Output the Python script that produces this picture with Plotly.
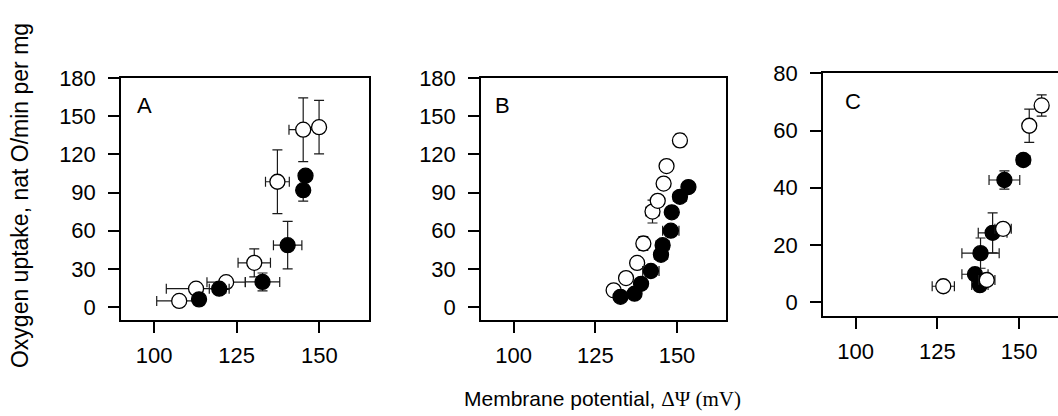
import plotly.graph_objects as go

W, H = 1058, 416

# Panel A data
A_open_x = [107.6, 112.7, 121.8, 130.3, 137.3, 145.1, 149.9]
A_open_y = [4.9, 14.5, 19.6, 34.8, 98.5, 139.4, 141.4]
A_open_xerr = [6.8, 9.0, 5.8, 4.9, 3.6, 4.3, 1.5]
A_open_yerr = [1.5, 2.0, 2.0, 11.0, 25.0, 25.0, 21.0]
A_fill_x = [113.6, 119.7, 132.8, 140.4, 145.1, 145.8]
A_fill_y = [6.1, 14.5, 19.8, 48.7, 91.9, 103.3]
A_fill_xerr = [1.5, 3.0, 5.2, 4.3, 1.5, 1.5]
A_fill_yerr = [2.0, 2.0, 7.0, 18.7, 8.6, 3.0]

# Panel B data
B_open_x = [130.6, 134.4, 137.8, 139.7, 142.5, 144.1, 145.9, 146.8, 150.9]
B_open_y = [13.2, 22.8, 34.7, 50.0, 75.1, 83.5, 97.1, 110.8, 131.0]
B_open_xerr = [1.0, 1.0, 1.0, 1.5, 2.0, 1.5, 1.0, 1.0, 1.0]
B_open_yerr = [2.0, 2.0, 2.0, 5.5, 9.0, 3.0, 3.0, 4.0, 5.0]
B_fill_x = [132.7, 137.0, 139.0, 142.0, 145.1, 145.6, 148.1, 148.4, 150.9, 153.5]
B_fill_y = [8.1, 10.6, 18.3, 28.4, 41.1, 48.7, 60.1, 74.5, 86.7, 94.3]
B_fill_xerr = [1.5, 1.5, 1.5, 2.5, 2.0, 2.0, 2.5, 1.5, 2.0, 1.5]
B_fill_yerr = [2.0, 2.0, 2.0, 2.0, 2.0, 2.0, 2.0, 2.0, 2.0, 2.0]

# Panel C data
C_open_x = [126.8, 140.1, 145.1, 153.1, 156.9]
C_open_y = [5.5, 7.7, 25.6, 61.7, 68.8]
C_open_xerr = [3.4, 2.5, 2.5, 1.0, 1.0]
C_open_yerr = [0.5, 1.0, 1.0, 5.8, 3.7]
C_fill_x = [138.0, 136.5, 138.2, 141.9, 145.5, 151.3]
C_fill_y = [5.9, 9.7, 17.1, 24.2, 42.7, 49.7]
C_fill_xerr = [2.5, 4.0, 5.7, 4.4, 4.7, 2.0]
C_fill_yerr = [1.0, 1.5, 5.3, 7.0, 3.2, 1.5]

xticks = [100, 125, 150]
yticks_ab = [0, 30, 60, 90, 120, 150, 180]
yticks_c = [0, 20, 40, 60, 80]
panel_labels = ["A", "B", "C"]

FONT = "Arial, Liberation Sans, sans-serif"
ERR = dict(color="#1a1a1a", thickness=1.2, width=5)

fig = go.Figure()


def add_series(x, y, xe, ye, filled, xa, ya):
    fig.add_trace(go.Scatter(
        x=x, y=y, mode="markers", xaxis=xa, yaxis=ya,
        error_x=dict(type="data", array=xe, **ERR),
        error_y=dict(type="data", array=ye, **ERR),
        marker=dict(size=15, color="black" if filled else "white",
                    line=dict(color="black", width=1.3)),
        showlegend=False, hoverinfo="skip"))


add_series(A_open_x, A_open_y, A_open_xerr, A_open_yerr, False, "x", "y")
add_series(A_fill_x, A_fill_y, A_fill_xerr, A_fill_yerr, True, "x", "y")
add_series(B_open_x, B_open_y, B_open_xerr, B_open_yerr, False, "x2", "y2")
add_series(B_fill_x, B_fill_y, B_fill_xerr, B_fill_yerr, True, "x2", "y2")
add_series(C_fill_x, C_fill_y, C_fill_xerr, C_fill_yerr, True, "x3", "y3")
add_series(C_open_x, C_open_y, C_open_xerr, C_open_yerr, False, "x3", "y3")


def px_x(p):
    return p / W


def px_y(p):
    return 1 - p / H


axcommon = dict(showline=True, linecolor="black", linewidth=1.5, ticks="outside",
                ticklen=11, tickwidth=1.5, tickcolor="black", showgrid=False,
                zeroline=False, tickfont=dict(family=FONT, size=22, color="black"))

dom_ab_y = [px_y(317), px_y(68)]
dom_c_y = [px_y(313.3), px_y(63.3)]

fig.update_layout(
    width=W, height=H, margin=dict(l=0, r=0, t=0, b=0),
    paper_bgcolor="white", plot_bgcolor="white",
    xaxis=dict(domain=[px_x(121), px_x(369)], range=[90, 165], tickvals=xticks,
               mirror=True, anchor="y", ticklabelstandoff=4, **axcommon),
    yaxis=dict(domain=dom_ab_y, range=[-10, 180], tickvals=yticks_ab,
               mirror=True, anchor="x", ticklabelstandoff=8, **axcommon),
    xaxis2=dict(domain=[px_x(481), px_x(726)], range=[90, 165], tickvals=xticks,
                mirror=True, anchor="y2", ticklabelstandoff=4, **axcommon),
    yaxis2=dict(domain=dom_ab_y, range=[-10, 180], tickvals=yticks_ab,
                mirror=True, anchor="x2", ticklabelstandoff=8, **axcommon),
    xaxis3=dict(domain=[px_x(823), 1.0], range=[90, 161.9], tickvals=xticks,
                mirror=True, anchor="y3", ticklabelstandoff=4, **axcommon),
    yaxis3=dict(domain=dom_c_y, range=[-5, 80], tickvals=yticks_c,
                mirror=False, anchor="x3", ticklabelstandoff=8, **axcommon),
)

label_pos = [(135, 96.5), (493, 96), (843, 92)]
for lab, (lx, ly) in zip(panel_labels, label_pos):
    fig.add_annotation(text=lab, xref="paper", yref="paper", x=px_x(lx), y=px_y(ly),
                       xanchor="left", yanchor="middle", showarrow=False,
                       font=dict(family=FONT, size=22, color="black"))

fig.add_annotation(text="Oxygen uptake, nat O/min per mg", xref="paper", yref="paper",
                   x=px_x(19.5), y=px_y(189), xanchor="center", yanchor="middle",
                   textangle=-90, showarrow=False,
                   font=dict(family=FONT, size=23, color="black"))

fig.add_annotation(text="Membrane potential, <span style='font-family:Liberation Serif, Times New Roman, serif'>ΔΨ (mV)</span>",
                   xref="paper", yref="paper", x=px_x(602), y=px_y(399),
                   xanchor="center", yanchor="middle", showarrow=False,
                   font=dict(family=FONT, size=21, color="black"))

fig.write_html("out.html", config={"displayModeBar": False},
               post_script="document.body.style.margin='0px';document.body.style.overflow='hidden';")
